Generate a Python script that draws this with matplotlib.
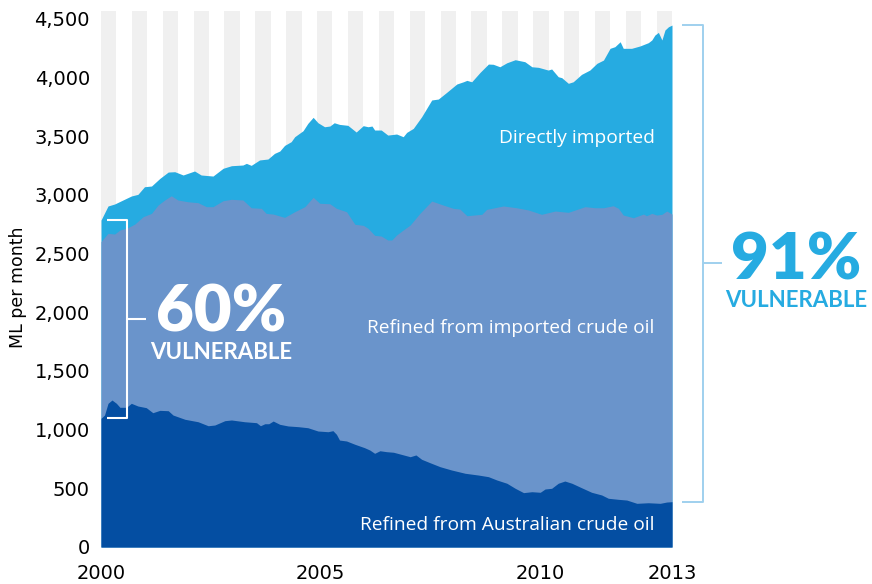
import matplotlib
matplotlib.use("Agg")
import matplotlib.pyplot as plt
import numpy as np

# ---- data (ML per month) ----
# Refined from Australian crude oil (bottom layer)
aus_years = [2000.0, 2000.08, 2000.16, 2000.25, 2000.35, 2000.43, 2000.58, 2000.69, 2000.84, 2001.03,
             2001.18, 2001.34, 2001.53, 2001.64, 2001.91, 2002.21, 2002.44, 2002.59, 2002.82, 2002.97,
             2003.27, 2003.54, 2003.63, 2003.73, 2003.82, 2003.92, 2004.07, 2004.26, 2004.49, 2004.71,
             2004.94, 2005.17, 2005.28, 2005.36, 2005.43, 2005.59, 2005.78, 2006.0, 2006.12, 2006.23,
             2006.35, 2006.5, 2006.66, 2006.81, 2007.04, 2007.17, 2007.3, 2007.49, 2007.72, 2007.98,
             2008.29, 2008.59, 2008.82, 2009.01, 2009.24, 2009.43, 2009.62, 2009.81, 2010.0, 2010.11,
             2010.26, 2010.41, 2010.56, 2010.72, 2010.94, 2011.17, 2011.4, 2011.55, 2011.78, 2011.97,
             2012.2, 2012.46, 2012.73, 2012.88, 2013.0]
aus_crude = [1096, 1124, 1224, 1252, 1224, 1190, 1190, 1224, 1201, 1187,
             1144, 1164, 1161, 1124, 1088, 1067, 1033, 1039, 1076, 1082,
             1067, 1059, 1033, 1050, 1050, 1073, 1045, 1031, 1025, 1016,
             988, 982, 991, 960, 911, 903, 875, 846, 826, 798,
             820, 812, 807, 792, 769, 784, 747, 718, 684, 656,
             628, 613, 599, 571, 543, 500, 463, 471, 466, 494,
             500, 543, 562, 543, 505, 466, 443, 415, 406, 400,
             372, 377, 372, 383, 386]

# Total refined (Australian + imported crude) = upper edge of middle layer
ref_years = [2000.0, 2000.16, 2000.31, 2000.43, 2000.61, 2000.77, 2000.96, 2001.15, 2001.3, 2001.45,
             2001.6, 2001.75, 2001.98, 2002.21, 2002.4, 2002.55, 2002.78, 2002.97, 2003.23, 2003.42,
             2003.65, 2003.76, 2003.92, 2004.18, 2004.41, 2004.64, 2004.83, 2004.98, 2005.21, 2005.36,
             2005.59, 2005.78, 2005.97, 2006.08, 2006.23, 2006.38, 2006.53, 2006.62, 2006.73, 2006.88,
             2007.04, 2007.26, 2007.53, 2007.79, 2008.02, 2008.17, 2008.33, 2008.67, 2008.78, 2009.16,
             2009.46, 2009.73, 2010.03, 2010.34, 2010.64, 2011.02, 2011.25, 2011.44, 2011.66, 2011.78,
             2011.89, 2012.12, 2012.35, 2012.42, 2012.54, 2012.65, 2012.77, 2012.88, 2013.0]
refined_total = [2601, 2672, 2666, 2700, 2720, 2751, 2814, 2842, 2913, 2956,
                 2992, 2956, 2941, 2933, 2899, 2899, 2950, 2962, 2956, 2890,
                 2885, 2842, 2836, 2808, 2856, 2899, 2979, 2928, 2924, 2885,
                 2856, 2749, 2740, 2715, 2655, 2649, 2615, 2615, 2658, 2700,
                 2743, 2842, 2947, 2913, 2885, 2879, 2822, 2834, 2876, 2905,
                 2890, 2871, 2834, 2862, 2851, 2899, 2890, 2890, 2907, 2885,
                 2828, 2805, 2836, 2822, 2842, 2828, 2834, 2862, 2836]

# Total consumption (refined + directly imported) = upper edge of top layer
tot_years = [2000.0, 2000.16, 2000.31, 2000.69, 2000.84, 2000.99, 2001.15, 2001.34, 2001.53, 2001.68,
             2001.87, 2002.13, 2002.28, 2002.55, 2002.78, 2002.97, 2003.23, 2003.31, 2003.42, 2003.61,
             2003.8, 2003.95, 2004.07, 2004.18, 2004.33, 2004.41, 2004.6, 2004.71, 2004.83, 2004.94,
             2005.09, 2005.21, 2005.31, 2005.43, 2005.62, 2005.81, 2005.97, 2006.08, 2006.17, 2006.23,
             2006.38, 2006.53, 2006.73, 2006.88, 2006.96, 2007.11, 2007.3, 2007.53, 2007.68, 2007.87,
             2008.1, 2008.25, 2008.33, 2008.44, 2008.63, 2008.82, 2008.93, 2009.08, 2009.24, 2009.43,
             2009.65, 2009.81, 2009.96, 2010.18, 2010.26, 2010.41, 2010.49, 2010.64, 2010.75, 2010.94,
             2011.13, 2011.29, 2011.44, 2011.59, 2011.7, 2011.82, 2011.89, 2012.08, 2012.27, 2012.46,
             2012.54, 2012.61, 2012.69, 2012.77, 2012.84, 2012.92, 2013.0]
total = [2785, 2905, 2922, 2990, 3004, 3069, 3075, 3140, 3194, 3197,
         3169, 3203, 3169, 3160, 3226, 3248, 3254, 3268, 3251, 3297,
         3305, 3353, 3373, 3421, 3453, 3495, 3546, 3609, 3660, 3614,
         3580, 3586, 3614, 3600, 3592, 3535, 3589, 3580, 3586, 3552,
         3552, 3509, 3518, 3495, 3532, 3566, 3665, 3808, 3816, 3873,
         3944, 3963, 3975, 3963, 4043, 4114, 4112, 4091, 4125, 4151,
         4134, 4091, 4086, 4063, 4072, 4006, 3998, 3950, 3963, 4026,
         4063, 4120, 4148, 4248, 4262, 4304, 4248, 4248, 4268, 4296,
         4319, 4361, 4384, 4319, 4404, 4432, 4446]

x_ticks = [2000, 2005, 2010, 2013]
y_ticks = [0, 500, 1000, 1500, 2000, 2500, 3000, 3500, 4000, 4500]

# ---- style ----
C_DARK = "#044ea2"
C_MID = "#6a94cb"
C_LIGHT = "#26abe1"
C_STRIPE = "#f0f0f0"
C_BRACKET_R = "#9fd0ee"

fig = plt.figure(figsize=(8.72, 5.84), dpi=100)
ax = fig.add_axes([101 / 872, 1 - 547 / 584, 571 / 872, 536 / 584])
ax.set_xlim(2000, 2013)
ax.set_ylim(0, 4566)

# background stripes
n_stripes = 19
w = 13 / (2 * n_stripes - 1)
for k in range(n_stripes):
    ax.axvspan(2000 + 2 * k * w, 2000 + (2 * k + 1) * w, color=C_STRIPE, lw=0, zorder=0)

# layered areas
ax.fill_between(tot_years, 0, total, color=C_LIGHT, lw=0, zorder=1)
ax.fill_between(ref_years, 0, refined_total, color=C_MID, lw=0, zorder=2)
ax.fill_between(aus_years, 0, aus_crude, color=C_DARK, lw=0, zorder=3)

for s in ax.spines.values():
    s.set_visible(False)
ax.set_xticks(x_ticks)
ax.set_yticks(y_ticks)
ax.set_yticklabels([f"{v:,}" for v in y_ticks])
ax.tick_params(axis="both", length=0, labelsize=14, colors="black")
ax.tick_params(axis="y", pad=8)
ax.tick_params(axis="x", pad=12)
fig.text(0.021, 0.508, "ML per month", rotation=90, ha="center", va="center", fontsize=12.5)

# area labels
lab_kw = dict(color="white", ha="right", va="center", fontsize=13.8, family="Open Sans", zorder=5)
ax.text(2012.61, 3484, "Directly imported", **lab_kw)
ax.text(2012.61, 1865, "Refined from imported crude oil", **lab_kw)
ax.text(2012.61, 187, "Refined from Australian crude oil", **lab_kw)

# left bracket (60%)
top_l, bot_l = total[0], aus_crude[0]
mid_l = (top_l + bot_l) / 2
bk = dict(color="white", lw=1.5, clip_on=False, zorder=6, solid_capstyle="butt")
ax.plot([2000.14, 2000.59, 2000.59, 2000.14], [top_l, top_l, bot_l, bot_l], **bk)
ax.plot([2000.59, 2001.02], [mid_l, mid_l], **bk)
ax.text(2002.73, 1993, "60%", color="white", ha="center", va="center", fontsize=47,
        family="Lato", weight="heavy", zorder=6)
ax.text(2002.73, 1661, "VULNERABLE", color="white", ha="center", va="center", fontsize=16,
        family="Lato", weight="bold", zorder=6)

# right bracket (91%)
top_r, bot_r = total[-1], aus_crude[-1]
mid_r = (top_r + bot_r) / 2
bkr = dict(color=C_BRACKET_R, lw=1.4, clip_on=False, zorder=6, solid_capstyle="butt")
ax.plot([2013.23, 2013.71, 2013.71, 2013.23], [top_r, top_r, bot_r, bot_r], **bkr)
ax.plot([2013.71, 2014.14], [mid_r, mid_r], **bkr)
ax.text(2015.82, 2440, "91%", color=C_LIGHT, ha="center", va="center", fontsize=47,
        family="Lato", weight="heavy", clip_on=False)
ax.text(2015.82, 2104, "VULNERABLE", color=C_LIGHT, ha="center", va="center", fontsize=16,
        family="Lato", weight="bold", clip_on=False)

fig.savefig("out.png", dpi=100)
